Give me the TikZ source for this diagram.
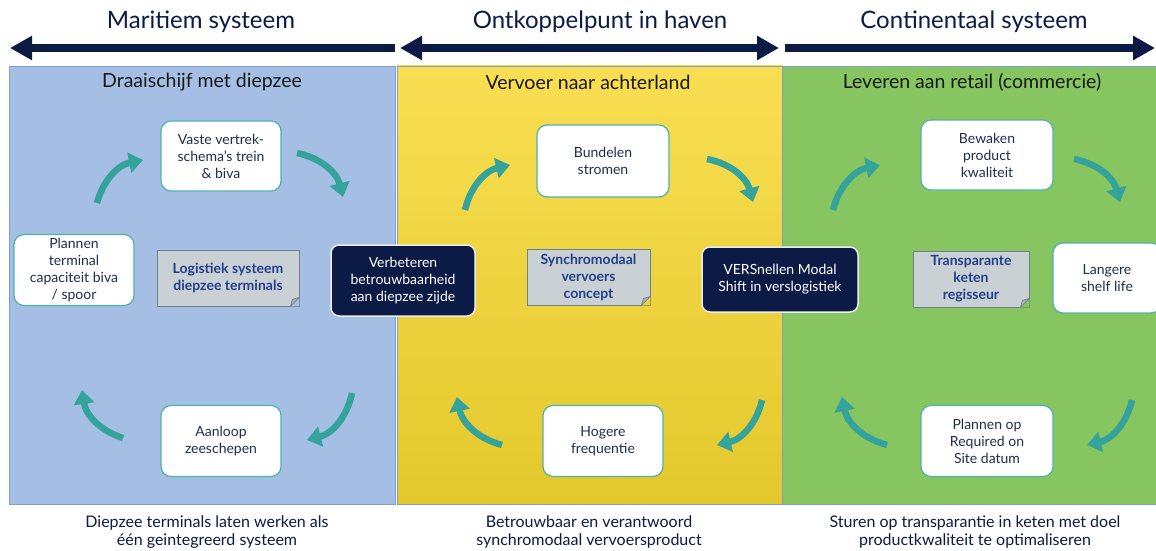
\documentclass[tikz,border=0pt]{standalone}
\usepackage{fontspec}
\setmainfont{Lato}
\usetikzlibrary{arrows.meta,calc}

\definecolor{navy}{HTML}{0C1B46}
\definecolor{inktext}{HTML}{1F2D4E}
\definecolor{cyclecol}{HTML}{34A39B}
\definecolor{boxedge}{HTML}{4DB3AC}
\definecolor{bluepanel}{HTML}{A4BEE4}
\definecolor{yellowtop}{HTML}{F9DE52}
\definecolor{yellowbot}{HTML}{E3C82C}
\definecolor{greenpanel}{HTML}{86C55F}
\definecolor{panelline}{HTML}{7F9FD3}
\definecolor{notegray}{HTML}{C9D1D5}
\definecolor{noteedge}{HTML}{6F7F8C}
\definecolor{foldgray}{HTML}{A7B0B6}
\definecolor{noteblue}{HTML}{233F8C}

\begin{document}
\begin{tikzpicture}[x=1pt,y=1pt,
  title/.style={text=navy, font=\fontsize{24}{28}\selectfont},
  heading/.style={text=black!90, font=\fontsize{19.5}{22}\selectfont},
  caption/.style={text=navy, align=center, font=\fontsize{16}{18}\selectfont},
  stepbox/.style={draw=boxedge, line width=1.2pt, fill=white, rounded corners=10pt,
    align=center, text=inktext, font=\fontsize{14}{17}\selectfont, inner sep=0pt},
  darkbox/.style={draw=white!85!gray, line width=1.5pt, fill=navy, rounded corners=8pt,
    align=center, text=white, font=\fontsize{14}{17}\selectfont, inner sep=0pt},
  notecard/.style={draw=noteedge, line width=0.8pt, fill=notegray, align=center,
    text=noteblue, font=\bfseries\fontsize{14}{17}\selectfont, inner sep=0pt},
  cyclearrow/.style={draw=cyclecol, line width=6.5pt,
    -{Triangle[width=20pt,length=14pt]}, bend left=32},
  bigarrow/.style={draw=navy, line width=8pt}
]
\useasboundingbox (0,0) rectangle (1156,-551);
\fill[white] (0,0) rectangle (1156,-551);

% three panels
\path[draw=panelline, line width=0.8pt, fill=bluepanel] (9,-66) rectangle (395,-504);
\path[draw=panelline, line width=0.8pt, top color=yellowtop, bottom color=yellowbot] (397,-66) rectangle (782,-504);
\path[draw=panelline, line width=0.8pt, fill=greenpanel] (782,-66) rectangle (1160,-504);

% system arrows along the top
\coordinate (maritimeStart) at (395,-48);
\coordinate (maritimeEnd) at (10,-48);
\coordinate (hubWest) at (400,-48);
\coordinate (hubEast) at (779,-48);
\coordinate (contStart) at (785,-48);
\coordinate (contEnd) at (1155,-48);
\draw[bigarrow, -{Triangle[width=23pt,length=22pt]}] (maritimeStart) -- (maritimeEnd);
\draw[bigarrow, {Triangle[width=23pt,length=22pt]}-{Triangle[width=23pt,length=22pt]}] (hubWest) -- (hubEast);
\draw[bigarrow, -{Triangle[width=23pt,length=22pt]}] (contStart) -- (contEnd);

\node[title] (tMar) at (201,-22) {Maritiem systeem};
\node[title] (tHub) at (600,-22) {Ontkoppelpunt in haven};
\node[title] (tCont) at (974,-22) {Continentaal systeem};

\node[heading] (hMar) at (202,-82) {Draaischijf met diepzee};
\node[heading] (hHub) at (588,-82) {Vervoer naar achterland};
\node[heading] (hCont) at (972,-82) {Leveren aan retail (commercie)};

% maritime cycle
\node[stepbox, minimum width=120pt, minimum height=70pt] (vaste) at (221,-156)
  {Vaste vertrek-\\schema’s trein\\\& biva};
\node[stepbox, minimum width=120pt, minimum height=71pt] (plannen) at (74,-270)
  {Plannen\\terminal\\capaciteit biva\\/ spoor};
\node[stepbox, minimum width=120pt, minimum height=71pt] (aanloop) at (221,-441)
  {Aanloop\\zeeschepen};

% hinterland cycle
\node[stepbox, minimum width=132pt, minimum height=72pt] (bundelen) at (603,-161)
  {Bundelen\\stromen};
\node[stepbox, minimum width=120pt, minimum height=71pt] (hogere) at (603,-441)
  {Hogere\\frequentie};

% retail cycle
\node[stepbox, minimum width=132pt, minimum height=70pt] (bewaken) at (987,-155)
  {Bewaken\\product\\kwaliteit};
\node[stepbox, minimum width=108pt, minimum height=70pt] (langere) at (1107,-278)
  {Langere\\shelf life};
\node[stepbox, minimum width=132pt, minimum height=71pt] (rsd) at (987,-441)
  {Plannen op\\Required on\\Site datum};

% linking boxes on the panel borders
\node[darkbox, minimum width=144pt, minimum height=71pt] (verbeteren) at (403,-280.5)
  {Verbeteren\\betrouwbaarheid\\aan diepzee zijde};
\node[darkbox, minimum width=156pt, minimum height=65pt] (versnellen) at (780,-279.5)
  {VERSnellen Modal\\Shift in verslogistiek};

% concept cards with a folded corner
\node[notecard, minimum width=142pt, minimum height=56pt] (nLog) at (228,-278)
  {Logistiek systeem\\diepzee terminals};
\fill[bluepanel] (nLog.south east) -- ++(-9,0) -- ++(9,9) -- cycle;
\filldraw[fill=foldgray, draw=noteedge, line width=0.6pt]
  ($(nLog.south east)+(-9,0)$) -- ($(nLog.south east)+(0,9)$) -- ($(nLog.south east)+(-7,7)$) -- cycle;

\node[notecard, minimum width=123pt, minimum height=56pt] (nSync) at (588.5,-277)
  {Synchromodaal\\vervoers\\concept};
\fill[yellowtop!45!yellowbot] (nSync.south east) -- ++(-9,0) -- ++(9,9) -- cycle;
\filldraw[fill=foldgray, draw=noteedge, line width=0.6pt]
  ($(nSync.south east)+(-9,0)$) -- ($(nSync.south east)+(0,9)$) -- ($(nSync.south east)+(-7,7)$) -- cycle;

\node[notecard, minimum width=116pt, minimum height=56pt] (nTrans) at (971,-279)
  {Transparante\\keten\\regisseur};
\fill[greenpanel] (nTrans.south east) -- ++(-9,0) -- ++(9,9) -- cycle;
\filldraw[fill=foldgray, draw=noteedge, line width=0.6pt]
  ($(nTrans.south east)+(-9,0)$) -- ($(nTrans.south east)+(0,9)$) -- ($(nTrans.south east)+(-7,7)$) -- cycle;

% curved cycle arrows
\foreach \n/\sx/\sy/\ex/\ey in {
   m1/97/203/143/160, m2/297/153/343/197, m3/352/393/307/440, m4/123/438/82/390,
   h1/465/210/510/165, h2/707/159/753/202, h3/762/400/717/445, h4/502/445/457/397,
   c1/833/210/880/165, c2/1074/159/1120/202, c3/1132/400/1087/445, c4/887/445/842/397}{
  \coordinate (\n a) at (\sx,-\sy);
  \coordinate (\n b) at (\ex,-\ey);
  \draw[cyclearrow] (\n a) to (\n b);
}

% captions under the panels
\node[caption] (capMar) at (207,-532)
  {Diepzee terminals laten werken als\\één geintegreerd systeem};
\node[caption] (capHub) at (589,-532)
  {Betrouwbaar en verantwoord\\synchromodaal vervoersproduct};
\node[caption] (capCont) at (975,-532)
  {Sturen op transparantie in keten met doel\\productkwaliteit te optimaliseren};
\end{tikzpicture}
\end{document}
